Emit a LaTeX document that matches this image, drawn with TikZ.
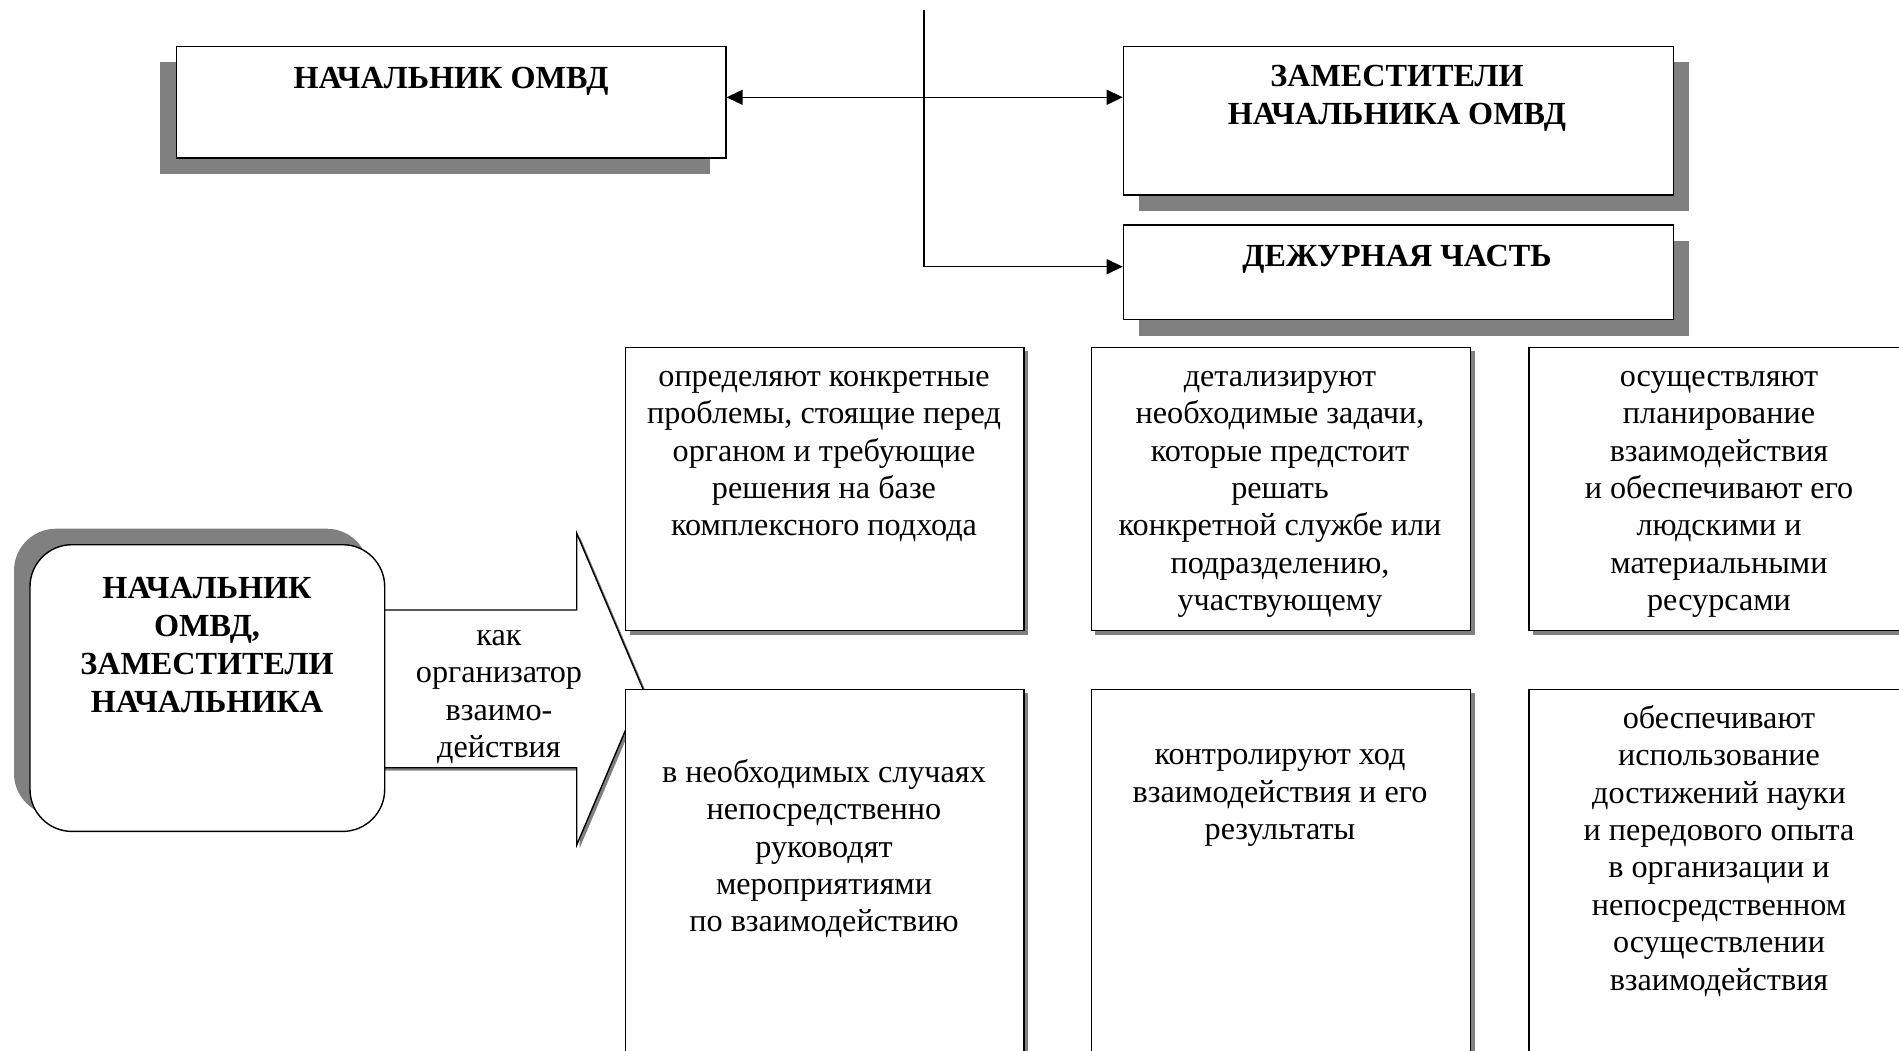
\documentclass[tikz,border=0pt]{standalone}
\usepackage{fontspec}
\setmainfont{Liberation Serif}
\usetikzlibrary{arrows.meta,shadows}
\definecolor{shgray}{HTML}{808080}
\newcommand{\mystrut}{\rule{0pt}{26pt}}
\begin{document}
\begin{tikzpicture}[x=1pt,y=-1pt,
  txt/.style={font=\fontsize{32.2}{37.4}\selectfont, align=center, inner sep=0pt, anchor=north},
  btxt/.style={font=\fontsize{32.2}{38}\selectfont\bfseries, align=center, inner sep=0pt, anchor=north},
  box/.style={draw, line width=1.4pt, fill=white, rectangle, inner sep=0pt, anchor=north west},
  shLD/.style={drop shadow={shadow xshift=-16pt, shadow yshift=-16pt, fill=shgray, opacity=1}},
  shRD/.style={drop shadow={shadow xshift=16pt, shadow yshift=-16pt, fill=shgray, opacity=1}},
  shLU/.style={drop shadow={shadow xshift=-16pt, shadow yshift=16pt, fill=shgray, opacity=1}},
  shsmall/.style={drop shadow={shadow xshift=4pt, shadow yshift=-4pt, fill=shgray, opacity=1}},
  conn/.style={line width=1.3pt},
  >={Triangle[length=16pt,width=15pt]}
]
\useasboundingbox (0,0) rectangle (1899,1051);
\clip (0,0) rectangle (1899,1051);
\fill[white] (0,0) rectangle (1899,1051);

% top boxes
\node[box, shLD, minimum width=549.5pt, minimum height=111.6pt] (nach) at (175.7,45.7) {};
\node[box, shRD, minimum width=550pt, minimum height=148.6pt] (zam) at (1122.7,45.7) {};
\node[box, shRD, minimum width=550pt, minimum height=94.5pt] (dej) at (1122.7,224.5) {};

\node[btxt] (nachT) at (451,62) {\mystrut НАЧАЛЬНИК ОМВД};
\node[btxt] (zamT) at (1397,60) {\mystrut ЗАМЕСТИТЕЛИ\\НАЧАЛЬНИКА ОМВД};
\node[btxt] (dejT) at (1397,240) {\mystrut ДЕЖУРНАЯ ЧАСТЬ};

% connectors
\coordinate (vtop) at (924,10);
\coordinate (vbot) at (924,266.7);
\coordinate (hmid) at (924,97.3);
\draw[line width=1.1pt] (vtop) -- (vbot);
\draw[conn, ->] (vbot) -- (vbot -| dej.west);
\draw[conn, <->] (hmid -| nach.east) -- (hmid -| zam.west);

% big block arrow
\begin{scope}[shift={(3pt,-3pt)}]
\fill[shgray] (370,610) -- (576.7,610) -- (576.7,533.3) -- (643,689) -- (576.7,845) -- (576.7,767.7) -- (370,767.7) -- cycle;
\end{scope}
\draw[fill=white, line width=1.4pt] (370,610) -- (576.7,610) -- (576.7,533.3) -- (643,689) -- (576.7,845) -- (576.7,767.7) -- (370,767.7);

% rounded box
\node[box, shLU, rounded corners=42pt, minimum width=354.7pt, minimum height=286.7pt] (lead) at (29.3,544) {};
\node[btxt] (leadT) at (207,572) {\mystrut НАЧАЛЬНИК\\ОМВД,\\ЗАМЕСТИТЕЛИ\\НАЧАЛЬНИКА};

\node[txt] (roleT) at (499,619) {\mystrut как\\организатор\\взаимо-\\действия};

% function boxes
\node[box, shsmall, minimum width=398.3pt, minimum height=283.5pt] (b1) at (625,346.5) {};
\node[box, shsmall, minimum width=379.5pt, minimum height=283.5pt] (b2) at (1090.5,346.5) {};
\node[box, shsmall, minimum width=381.7pt, minimum height=283.5pt] (b3) at (1528.3,346.5) {};
\node[box, shsmall, minimum width=398.3pt, minimum height=381.5pt] (b4) at (625,688.5) {};
\node[box, shsmall, minimum width=379.5pt, minimum height=381.5pt] (b5) at (1090.5,688.5) {};
\node[box, shsmall, minimum width=381.7pt, minimum height=381.5pt] (b6) at (1528.3,688.5) {};

\node[txt] (t1) at (824,360) {\mystrut определяют конкретные\\проблемы, стоящие перед\\органом и требующие\\решения на базе\\комплексного подхода};
\node[txt] (t2) at (1280,360) {\mystrut детализируют\\необходимые задачи,\\которые предстоит\\решать\\конкретной службе или\\подразделению,\\участвующему};
\node[txt] (t3) at (1719,360) {\mystrut осуществляют\\планирование\\взаимодействия\\и обеспечивают его\\людскими и\\материальными\\ресурсами};
\node[txt] (t4) at (824,756) {\mystrut в необходимых случаях\\непосредственно\\руководят\\мероприятиями\\по взаимодействию};
\node[txt] (t5) at (1280,738.5) {\mystrut контролируют ход\\взаимодействия и его\\результаты};
\node[txt] (t6) at (1719,702) {\mystrut обеспечивают\\использование\\достижений науки\\и передового опыта\\в организации и\\непосредственном\\осуществлении\\взаимодействия};
\end{tikzpicture}
\end{document}
